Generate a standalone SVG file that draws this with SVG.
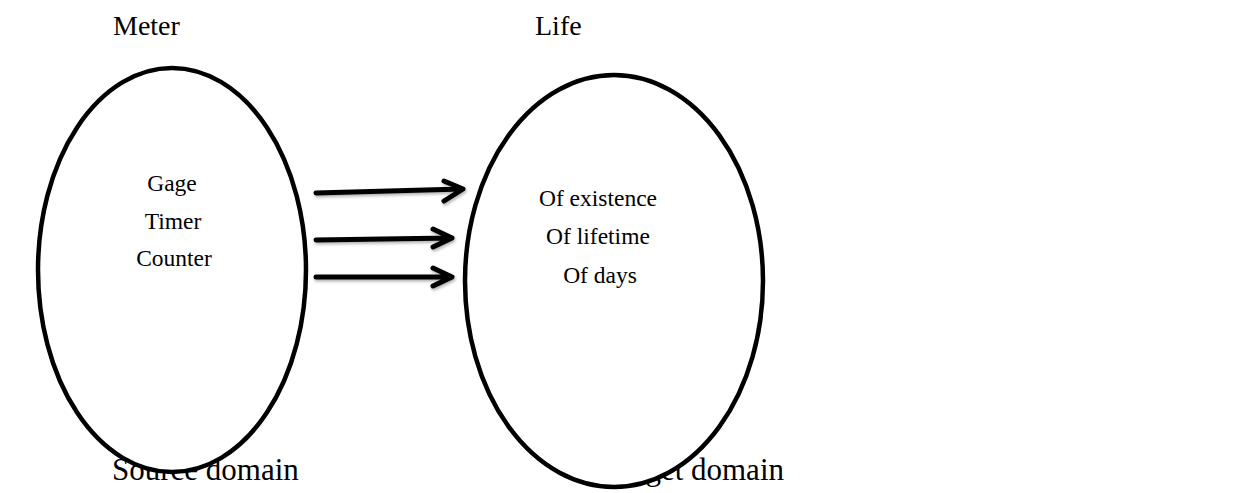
<svg xmlns="http://www.w3.org/2000/svg" width="1234" height="493" viewBox="0 0 1234 493">
<style>
text{font-family:"Liberation Serif","Times New Roman",serif;fill:#000}
.top{font-size:28px}
.bot{font-size:31px}
.in{font-size:23.5px;text-anchor:middle}
.dom{fill:#fff;stroke:#000;stroke-width:4.5}
.arr{fill:none;stroke:#000;stroke-width:5;stroke-linecap:round;stroke-linejoin:round}
</style>
<defs>
<filter id="sh" x="-10%" y="-50%" width="120%" height="200%">
<feDropShadow dx="1" dy="2" stdDeviation="1.5" flood-color="#000" flood-opacity="0.3"/>
</filter>
</defs>
<rect width="1234" height="493" fill="#fff"/>
<g id="titles">
<text class="top" x="113" y="35">Meter</text>
<text class="top" x="535" y="35">Life</text>
<text class="bot" x="112" y="480">Source domain</text>
<text class="bot" x="784" y="480" text-anchor="end">Target domain</text>
</g>
<g id="source">
<ellipse class="dom" cx="172" cy="270" rx="134" ry="202"/>
<text class="in" x="172" y="191">Gage</text>
<text class="in" x="173" y="229">Timer</text>
<text class="in" x="174" y="266">Counter</text>
</g>
<g id="target">
<ellipse class="dom" cx="614" cy="281" rx="149" ry="206"/>
<text class="in" x="598" y="206">Of existence</text>
<text class="in" x="598" y="244">Of lifetime</text>
<text class="in" x="600" y="283">Of days</text>
</g>
<g id="connectors" filter="url(#sh)">
<path class="arr" d="M316 193 L462 189 M444 181 L463 189 L444 201"/>
<path class="arr" d="M316 240 L451 238 M433 229 L452 238 L433 247"/>
<path class="arr" d="M316 277 L451 277 M433 268 L452 277 L433 286"/>
</g>
</svg>
